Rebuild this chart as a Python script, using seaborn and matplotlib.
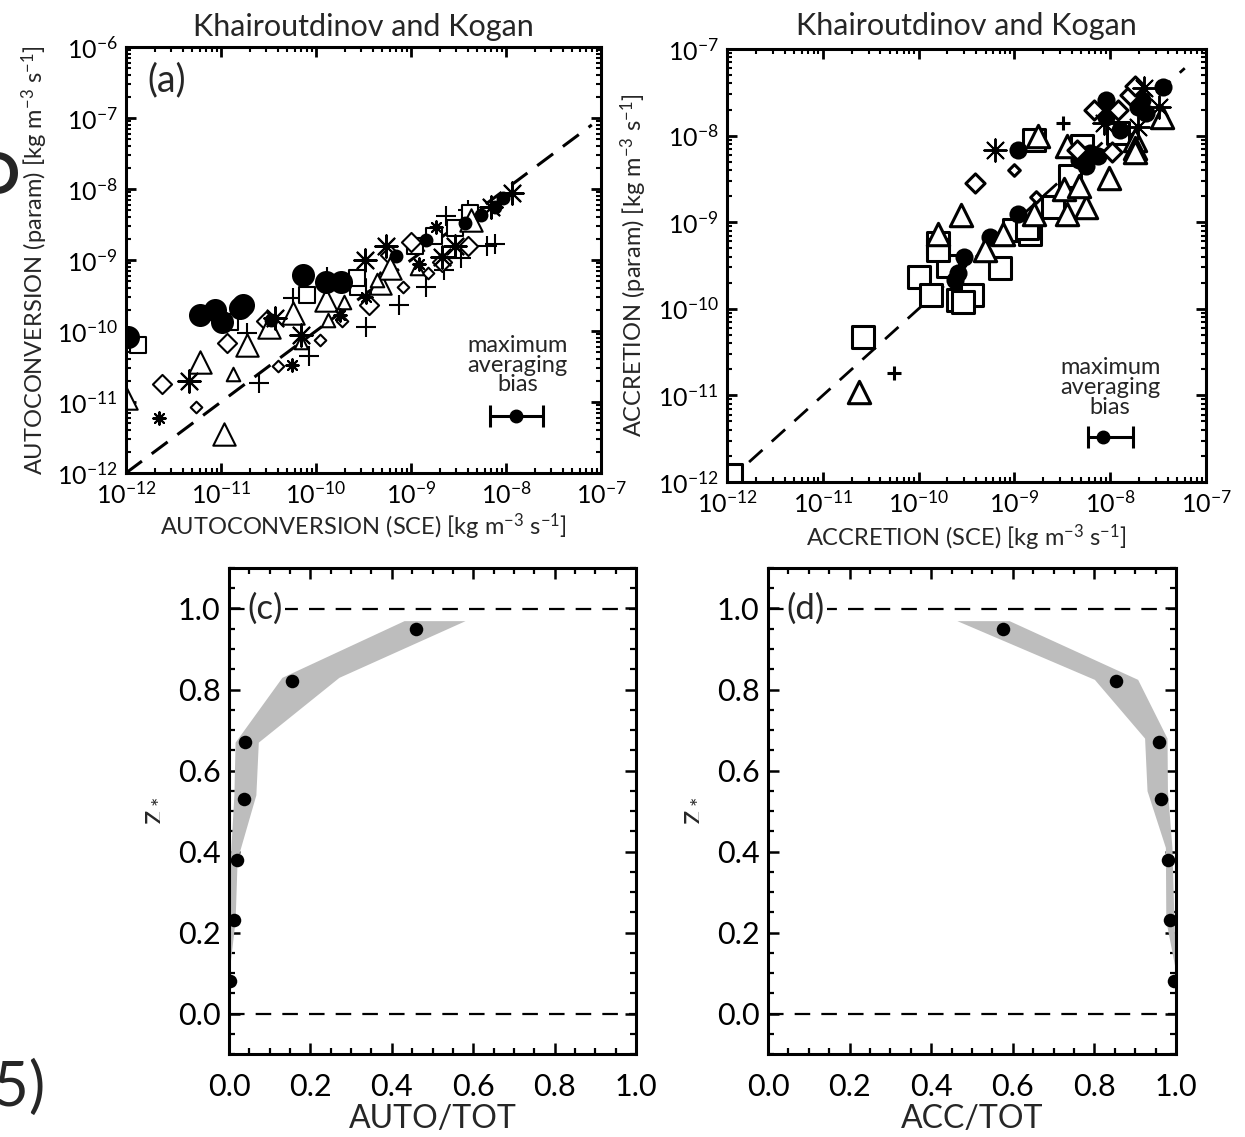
import numpy as np
import pandas as pd
import matplotlib
matplotlib.use("Agg")
import matplotlib.pyplot as plt
import seaborn as sns
from matplotlib.ticker import LogLocator, FuncFormatter, MultipleLocator, NullFormatter, FormatStrFormatter

# ---------------- data ----------------
# Panel (a): autoconversion, SCE vs parameterisation (kg m-3 s-1)
a_circle_big_x = [1.05e-12, 6.0e-12, 8.7e-12, 1.02e-11, 1.58e-11, 1.7e-11, 7.3e-11, 1.26e-10, 1.85e-10]
a_circle_big_y = [8.3e-11, 1.68e-10, 2.0e-10, 1.35e-10, 2.1e-10, 2.3e-10, 6.2e-10, 4.9e-10, 4.9e-10]
a_circle_med_x = [3.4e-11, 6.9e-10, 1.44e-9, 3.7e-9, 5.4e-9, 7.6e-9, 9.3e-9]
a_circle_med_y = [1.42e-10, 1.15e-9, 1.9e-9, 3.3e-9, 4.3e-9, 5.6e-9, 7.4e-9]
a_square_x = [1.35e-12, 1.25e-11, 8.1e-11, 2.8e-10, 2.7e-10, 1.1e-9, 1.75e-9, 2.9e-9, 4.2e-9]
a_square_y = [6.3e-11, 1.35e-10, 3.2e-10, 4.1e-10, 5.5e-10, 1.55e-9, 2.15e-9, 2.8e-9, 4.6e-9]
a_diamond_big_x = [2.4e-12, 1.15e-11, 3.0e-11, 3.6e-10, 6.0e-10, 1.0e-9, 2.1e-9, 4.0e-9]
a_diamond_big_y = [1.78e-11, 6.8e-11, 1.4e-10, 2.3e-10, 1.17e-9, 1.8e-9, 9.5e-10, 1.55e-9]
a_diamond_small_x = [5.5e-12, 4.0e-11, 1.1e-10, 1.9e-10, 8.3e-10, 1.5e-9]
a_diamond_small_y = [8.5e-12, 3.2e-11, 7.4e-11, 1.4e-10, 4.2e-10, 6.5e-10]
a_triangle_big_x = [1.0e-12, 6.0e-12, 1.07e-11, 1.86e-11, 3.2e-11, 5.7e-11, 1.26e-10, 4.7e-10, 6.0e-10, 4.3e-9]
a_triangle_big_y = [1.15e-11, 3.7e-11, 3.5e-12, 6.3e-11, 1.15e-10, 1.78e-10, 2.75e-10, 4.7e-10, 7.7e-10, 3.7e-9]
a_triangle_small_x = [1.35e-11, 7.0e-11, 1.35e-10, 1.95e-10, 1.16e-9, 4.4e-10]
a_triangle_small_y = [2.5e-11, 7.0e-11, 1.42e-10, 2.6e-10, 7.7e-10, 5.2e-10]
a_star_big_x = [4.6e-12, 3.7e-11, 7.0e-11, 3.3e-10, 5.5e-10, 2.1e-9, 2.9e-9, 7.0e-9, 1.15e-8]
a_star_big_y = [2.0e-11, 1.5e-10, 8.7e-11, 1.0e-9, 1.55e-9, 1.1e-9, 1.6e-9, 5.6e-9, 8.7e-9]
a_star_small_x = [2.2e-12, 5.6e-11, 1.8e-10, 3.4e-10, 1.2e-9, 1.85e-9]
a_star_small_y = [5.9e-12, 3.3e-11, 1.7e-10, 3.0e-10, 8.9e-10, 2.95e-9]
a_plus_x = [2.5e-11, 8.5e-11, 3.4e-10, 7.4e-10, 1.45e-9, 2.2e-9, 3.4e-9, 6.3e-9, 7.6e-9, 2.35e-9, 4.0e-9, 1.3e-10, 1.86e-11, 5.7e-11]
a_plus_y = [1.85e-11, 4.4e-11, 1.15e-10, 2.3e-10, 4.2e-10, 7.2e-10, 1.05e-9, 1.55e-9, 1.7e-9, 4.1e-9, 5.0e-9, 5.8e-10, 9.3e-11, 2.9e-10]
a_bias_x, a_bias_y = 1.27e-8, 6.3e-12
a_bias_lo, a_bias_hi = 6.8e-9, 2.45e-8

# Panel (b): accretion
b_square_x = [2.6e-11, 1.0e-10, 1.34e-10, 2.05e-10, 2.6e-10, 3.6e-10, 7.0e-10, 1.6e-10, 1.6e-10, 1.0e-9,
              1.47e-9, 1.35e-9, 2.5e-9, 3.8e-9, 5.1e-9, 1.2e-8, 1.62e-9, 2.9e-10, 1.1e-12]
b_square_y = [4.7e-11, 2.34e-10, 1.44e-10, 3.1e-10, 1.26e-10, 1.44e-10, 2.95e-10, 5.7e-10, 4.8e-10, 8.1e-10,
              7.4e-10, 8.5e-10, 1.5e-9, 3.4e-9, 7.5e-9, 1.07e-8, 8.9e-9, 1.2e-10, 1.2e-12]
b_circle_x = [2.4e-10, 3.0e-10, 1.1e-9, 5.6e-10, 1.1e-9, 4.7e-9, 5.6e-9, 6.2e-9, 7.4e-9, 9.1e-9,
              1.26e-8, 1.95e-8, 2.15e-8, 2.35e-8, 3.6e-8, 9.1e-9, 2.6e-10]
b_circle_y = [2.15e-10, 4.0e-10, 6.8e-9, 6.8e-10, 1.26e-9, 5.2e-9, 4.4e-9, 6.3e-9, 5.8e-9, 2.6e-8,
              1.15e-8, 2.15e-8, 2.6e-8, 1.8e-8, 3.65e-8, 1.65e-8, 2.6e-10]
b_triangle_x = [2.4e-11, 1.78e-9, 2.8e-10, 4.9e-10, 7.6e-10, 1.6e-9, 3.5e-9, 5.6e-9, 3.3e-9, 4.7e-9,
                9.6e-9, 3.5e-8, 1.8e-8, 1.8e-8, 1.8e-8, 3.5e-9, 1.6e-10]
b_triangle_y = [1.1e-11, 9.8e-9, 1.2e-9, 4.8e-10, 7.4e-10, 1.26e-9, 1.26e-9, 1.5e-9, 2.4e-9, 2.6e-9,
                3.2e-9, 1.65e-8, 8.9e-9, 7.1e-9, 6.5e-9, 7.5e-9, 7.4e-10]
b_diamond_big_x = [3.9e-10, 1.05e-8, 6.8e-9, 1.2e-8, 1.6e-8, 1.8e-8, 4.5e-9]
b_diamond_big_y = [2.8e-9, 6.5e-9, 2.0e-8, 2.0e-8, 2.95e-8, 3.7e-8, 6.8e-9]
b_diamond_small_x = [9.8e-10, 1.7e-9]
b_diamond_small_y = [4.0e-9, 1.95e-9]
b_star_x = [6.2e-10, 8.7e-9, 2.25e-8, 3.2e-8, 1.95e-8]
b_star_y = [6.8e-9, 1.4e-8, 3.5e-8, 2.15e-8, 1.27e-8]
b_plus_x = [5.5e-11, 3.2e-9]
b_plus_y = [1.8e-11, 1.4e-8]
b_bias_x, b_bias_y = 8.5e-9, 3.3e-12
b_bias_lo, b_bias_hi = 5.9e-9, 1.74e-8

# Panels (c), (d): vertical profiles vs normalised height z*
z_levels = [0.08, 0.23, 0.38, 0.53, 0.67, 0.82, 0.95]
auto_frac = [0.003, 0.012, 0.02, 0.037, 0.04, 0.155, 0.46]
acc_frac = [0.995, 0.985, 0.98, 0.963, 0.958, 0.853, 0.575]
c_band_z = [0.10, 0.23, 0.38, 0.54, 0.67, 0.83, 0.97]
c_band_lo = [0.0, 0.0, 0.003, 0.012, 0.015, 0.13, 0.43]
c_band_hi = [0.0, 0.015, 0.02, 0.066, 0.072, 0.27, 0.58]
d_band_z = [0.10, 0.23, 0.41, 0.55, 0.68, 0.825, 0.97]
d_band_lo = [1.0, 0.975, 0.974, 0.929, 0.923, 0.80, 0.463]
d_band_hi = [1.0, 0.995, 0.99, 0.979, 0.978, 0.906, 0.591]

# ---------------- style ----------------
sns.set_theme(style="ticks")
FONT = "Lato"
plt.rcParams["font.family"] = [FONT, "DejaVu Sans"]
plt.rcParams["mathtext.fontset"] = "custom"
plt.rcParams["mathtext.rm"] = FONT
plt.rcParams["mathtext.it"] = FONT + ":italic"
plt.rcParams["mathtext.bf"] = FONT + ":bold"
plt.rcParams["axes.linewidth"] = 2.2
plt.rcParams["axes.edgecolor"] = "black"

W, H = 1245, 1137
fig = plt.figure(figsize=(W / 100, H / 100), dpi=100)
fig.patch.set_facecolor("white")


def box(l, t, r, b):
    return [l / W, 1 - b / H, (r - l) / W, (b - t) / H]


ax_a = fig.add_axes(box(126, 47, 601, 473))
ax_b = fig.add_axes(box(727, 49, 1206, 482))
ax_c = fig.add_axes(box(229, 568, 636, 1054))
ax_d = fig.add_axes(box(768, 568, 1176, 1054))

STAR = (8, 2, 0)


def style(kind, lw):
    if kind == "circle_big":
        return dict(marker="o", s=275, color="black", edgecolor="black", linewidth=0)
    if kind == "circle_med":
        return dict(marker="o", s=100, color="black", edgecolor="black", linewidth=0)
    if kind == "circle_b":
        return dict(marker="o", s=170, color="black", edgecolor="black", linewidth=0)
    if kind == "square":
        return dict(marker="s", s=140, color="white", edgecolor="black", linewidth=lw)
    if kind == "square_b":
        return dict(marker="s", s=240, color="white", edgecolor="black", linewidth=lw)
    if kind == "diamond_big":
        return dict(marker="D", s=95, color="white", edgecolor="black", linewidth=lw)
    if kind == "diamond_small":
        return dict(marker="D", s=35, color="white", edgecolor="black", linewidth=lw)
    if kind == "triangle_big":
        return dict(marker="^", s=260, color="white", edgecolor="black", linewidth=lw)
    if kind == "triangle_small":
        return dict(marker="^", s=95, color="white", edgecolor="black", linewidth=lw)
    if kind == "star_big":
        return dict(marker=STAR, s=260, color="black", linewidth=lw)
    if kind == "star_small":
        return dict(marker=STAR, s=80, color="black", linewidth=lw)
    if kind == "plus":
        return dict(marker="+", s=220, color="black", linewidth=lw)
    if kind == "plus_small":
        return dict(marker="+", s=90, color="black", linewidth=lw + 0.6)


def log_fmt(v, pos):
    e = int(round(np.log10(v)))
    return r"$\mathregular{10^{%d}}$" % e


def style_log_axes(ax, ylo, yhi):
    ax.set_xscale("log")
    ax.set_yscale("log")
    ax.set_xlim(1e-12, 1e-7)
    ax.set_ylim(ylo, yhi)
    for axis in (ax.xaxis, ax.yaxis):
        axis.set_major_locator(LogLocator(base=10, numticks=20))
        axis.set_minor_locator(LogLocator(base=10, subs=np.arange(2, 10), numticks=20))
        axis.set_major_formatter(FuncFormatter(log_fmt))
        axis.set_minor_formatter(NullFormatter())
    ax.tick_params(which="both", direction="in", top=True, right=True, colors="black")
    ax.tick_params(which="major", length=7, width=2.0, labelsize=18, pad=6)
    ax.tick_params(which="minor", length=3.5, width=1.5)
    for sp in ax.spines.values():
        sp.set_visible(True)
        sp.set_linewidth(2.2)


def scatter_group(ax, xs, ys, kind, lw):
    df = pd.DataFrame({"x": xs, "y": ys})
    sns.scatterplot(data=df, x="x", y="y", ax=ax, legend=False, **style(kind, lw))


UNIT = r" [kg m$\mathregular{^{-3}}$ s$\mathregular{^{-1}}$]"

# ---------------- panel (a) ----------------
style_log_axes(ax_a, 1e-12, 1e-6)
ax_a.plot([1e-12, 8e-8], [1e-12, 8e-8], color="black", lw=2.2, dashes=(6.5, 4.0), zorder=1)
lw_a = 1.5
scatter_group(ax_a, a_plus_x, a_plus_y, "plus", lw_a)
scatter_group(ax_a, a_square_x, a_square_y, "square", lw_a)
scatter_group(ax_a, a_diamond_big_x, a_diamond_big_y, "diamond_big", lw_a)
scatter_group(ax_a, a_diamond_small_x, a_diamond_small_y, "diamond_small", lw_a)
scatter_group(ax_a, a_triangle_big_x, a_triangle_big_y, "triangle_big", lw_a)
scatter_group(ax_a, a_triangle_small_x, a_triangle_small_y, "triangle_small", lw_a)
scatter_group(ax_a, a_star_big_x, a_star_big_y, "star_big", lw_a)
scatter_group(ax_a, a_star_small_x, a_star_small_y, "star_small", lw_a)
scatter_group(ax_a, a_circle_big_x, a_circle_big_y, "circle_big", lw_a)
scatter_group(ax_a, a_circle_med_x, a_circle_med_y, "circle_med", lw_a)
ax_a.errorbar([a_bias_x], [a_bias_y], xerr=[[a_bias_x - a_bias_lo], [a_bias_hi - a_bias_x]],
              fmt="o", color="black", ms=9, elinewidth=2.2, capsize=8, capthick=2.2)
ax_a.text(0.825, 0.253, "maximum\naveraging\nbias", transform=ax_a.transAxes, ha="center",
          va="center", fontsize=17, linespacing=0.92)
ax_a.text(0.045, 0.922, "(a)", transform=ax_a.transAxes, ha="left", va="center", fontsize=27)
ax_a.set_title("Khairoutdinov and Kogan", fontsize=22, pad=8)
ax_a.set_xlabel("AUTOCONVERSION (SCE)" + UNIT, fontsize=17, labelpad=3)
ax_a.set_ylabel("AUTOCONVERSION (param)" + UNIT, fontsize=17, labelpad=5)

# ---------------- panel (b) ----------------
style_log_axes(ax_b, 1e-12, 1e-7)
ax_b.plot([1.7e-12, 6e-8], [1.7e-12, 6e-8], color="black", lw=2.0, dashes=(6.5, 4.5), zorder=1)
lw_b = 2.2
scatter_group(ax_b, b_plus_x, b_plus_y, "plus_small", lw_b - 0.6)
scatter_group(ax_b, b_square_x, b_square_y, "square_b", lw_b)
scatter_group(ax_b, b_circle_x, b_circle_y, "circle_b", lw_b)
scatter_group(ax_b, b_triangle_x, b_triangle_y, "triangle_big", lw_b)
scatter_group(ax_b, b_diamond_big_x, b_diamond_big_y, "diamond_big", lw_b)
scatter_group(ax_b, b_diamond_small_x, b_diamond_small_y, "diamond_small", lw_b)
scatter_group(ax_b, b_star_x, b_star_y, "star_big", lw_b - 0.8)
ax_b.errorbar([b_bias_x], [b_bias_y], xerr=[[b_bias_x - b_bias_lo], [b_bias_hi - b_bias_x]],
              fmt="o", color="black", ms=9, elinewidth=2.2, capsize=8, capthick=2.2)
ax_b.text(0.80, 0.218, "maximum\naveraging\nbias", transform=ax_b.transAxes, ha="center",
          va="center", fontsize=17, linespacing=0.92)
ax_b.set_title("Khairoutdinov and Kogan", fontsize=22, pad=10)
ax_b.set_xlabel("ACCRETION (SCE)" + UNIT, fontsize=17, labelpad=4)
ax_b.set_ylabel("ACCRETION (param)" + UNIT, fontsize=17, labelpad=6)


# ---------------- panels (c), (d) ----------------
def style_lin_axes(ax):
    ax.set_xlim(0, 1)
    ax.set_ylim(-0.1, 1.1)
    ax.xaxis.set_major_locator(MultipleLocator(0.2))
    ax.xaxis.set_minor_locator(MultipleLocator(0.05))
    ax.yaxis.set_major_locator(MultipleLocator(0.2))
    ax.yaxis.set_minor_locator(MultipleLocator(0.05))
    ax.xaxis.set_major_formatter(FormatStrFormatter("%.1f"))
    ax.yaxis.set_major_formatter(FormatStrFormatter("%.1f"))
    ax.tick_params(which="both", direction="in", top=True, right=True, colors="black")
    ax.tick_params(which="major", length=8, width=1.8, labelsize=22)
    ax.tick_params(axis="x", which="major", pad=14)
    ax.tick_params(axis="y", which="major", pad=6)
    ax.tick_params(which="minor", length=4.5, width=1.6)
    for sp in ax.spines.values():
        sp.set_visible(True)
        sp.set_linewidth(2.2)
    ax.axhline(1.0, color="black", lw=1.6, dashes=(7, 5), zorder=1)
    ax.axhline(0.0, color="black", lw=1.6, dashes=(7, 5), zorder=1)


for ax, vals, blo, bhi, bz, lab, xl in [
    (ax_c, auto_frac, c_band_lo, c_band_hi, c_band_z, "(c)", "AUTO/TOT"),
    (ax_d, acc_frac, d_band_lo, d_band_hi, d_band_z, "(d)", "ACC/TOT"),
]:
    style_lin_axes(ax)
    ax.fill_betweenx(bz, blo, bhi, color="#bdbdbd", linewidth=0, zorder=2)
    df = pd.DataFrame({"frac": vals, "z": z_levels})
    sns.scatterplot(data=df, x="frac", y="z", ax=ax, marker="o", s=95, color="black",
                    edgecolor="black", linewidth=0, zorder=3, legend=False)
    ax.text(0.045, 1.0, lab, ha="left", va="center", fontsize=25, zorder=4,
            bbox=dict(facecolor="white", edgecolor="none", pad=1.5))
    ax.set_xlabel(xl, fontsize=23, labelpad=2)
    ax.set_ylabel(r"$\mathregular{z_*}$", fontsize=23, labelpad=10)

# cropped page fragments at the left edge
fig.text(20 / W, 1 - 178 / H, "O", ha="right", va="center", fontsize=42, fontweight="bold")
fig.text(46 / W, 1 - 1088 / H, "(5)", ha="right", va="center", fontsize=44)

fig.savefig("out.png", dpi=100, facecolor="white")
